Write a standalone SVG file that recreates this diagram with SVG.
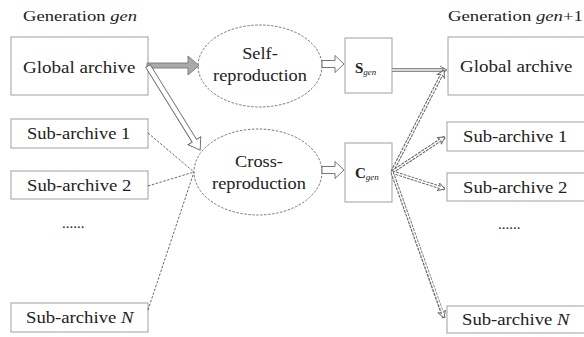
<svg xmlns="http://www.w3.org/2000/svg" width="584" height="337" viewBox="0 0 584 337" font-family="Liberation Serif">
<style>
  text { fill: #222; }
  .box { fill: #fff; stroke: #a0a0a0; stroke-width: 1; }
  .lbl { font-size: 17px; }
  .hdr { font-size: 15px; }
  .mid { text-anchor: middle; }
  .ell { fill: #fff; stroke: #555; stroke-width: 0.8; stroke-dasharray: 2.5 1.5; }
  .thin { fill: none; stroke: #444; stroke-width: 0.8; stroke-dasharray: 2.5 1.5; }
  .dblout { fill: none; stroke: #666; stroke-width: 3.4; stroke-dasharray: 3 1; }
  .dblin { fill: none; stroke: #fff; stroke-width: 1.4; }
  .sdblout { fill: none; stroke: #666; stroke-width: 3.4; }
  .hollow { fill: #fff; stroke: #666; stroke-width: 0.9; }
  .grey { fill: #aaa; stroke: #777; stroke-width: 0.9; }
  .head { fill: #fff; stroke: #666; stroke-width: 0.9; }
</style>
<defs>
  <marker id="ah" markerWidth="10" markerHeight="10" refX="8" refY="5" orient="auto" markerUnits="userSpaceOnUse">
    <path d="M1,1 L8,5 L1,9 L3,5 Z" class="head"/>
  </marker>
</defs>

<text class="hdr" font-family="Liberation Serif" transform="translate(23,21) scale(1.24,1)">Generation <tspan font-style="italic">gen</tspan></text>
<text class="hdr" font-family="Liberation Serif" transform="translate(448,21) scale(1.25,1)">Generation <tspan font-style="italic">gen</tspan>+1</text>

<g id="left-global">
  <rect class="box" x="11" y="37" width="137" height="58"/>
  <text class="lbl" font-family="Liberation Serif" transform="translate(23,73) scale(1.12,1)">Global archive</text>
</g>
<g id="left-sub1">
  <rect class="box" x="11" y="119" width="137" height="29"/>
  <text class="lbl" font-family="Liberation Serif" transform="translate(27,139) scale(1.09,1)">Sub-archive 1</text>
</g>
<g id="left-sub2">
  <rect class="box" x="11" y="171" width="137" height="28"/>
  <text class="lbl" font-family="Liberation Serif" transform="translate(27,191) scale(1.1,1)">Sub-archive 2</text>
</g>
<text id="left-dots" class="hdr" font-family="Liberation Serif" x="62" y="228">......</text>
<g id="left-subN">
  <rect class="box" x="11" y="303" width="137" height="29"/>
  <text class="lbl" font-family="Liberation Serif" transform="translate(26,323) scale(1.1,1)">Sub-archive <tspan font-style="italic">N</tspan></text>
</g>

<g id="self">
  <ellipse class="ell" cx="260" cy="66" rx="62" ry="41"/>
  <text class="lbl mid" font-family="Liberation Serif" transform="translate(260,59) scale(1.08,1)">Self-</text>
  <text class="lbl mid" font-family="Liberation Serif" transform="translate(260,81) scale(1.08,1)">reproduction</text>
</g>
<g id="cross">
  <ellipse class="ell" cx="258" cy="172" rx="64" ry="43"/>
  <text class="lbl mid" font-family="Liberation Serif" transform="translate(259,167) scale(1.08,1)">Cross-</text>
  <text class="lbl mid" font-family="Liberation Serif" transform="translate(259,189) scale(1.08,1)">reproduction</text>
</g>

<g id="sgen">
  <rect class="box" x="345" y="38" width="47" height="55"/>
  <text font-family="Liberation Serif" x="355" y="73" font-size="15" font-weight="bold">S<tspan font-size="9" font-weight="normal" font-style="italic" dy="2">gen</tspan></text>
</g>
<g id="cgen">
  <rect class="box" x="345" y="143" width="47" height="59"/>
  <text font-family="Liberation Serif" x="355" y="178" font-size="15" font-weight="bold">C<tspan font-size="9" font-weight="normal" font-style="italic" dy="2">gen</tspan></text>
</g>

<g id="right-global">
  <rect class="box" x="448" y="37" width="140" height="58"/>
  <text class="lbl" font-family="Liberation Serif" transform="translate(460,72) scale(1.12,1)">Global archive</text>
</g>
<g id="right-sub1">
  <rect class="box" x="447" y="122" width="140" height="29"/>
  <text class="lbl" font-family="Liberation Serif" transform="translate(463,142) scale(1.1,1)">Sub-archive 1</text>
</g>
<g id="right-sub2">
  <rect class="box" x="447" y="173" width="140" height="28"/>
  <text class="lbl" font-family="Liberation Serif" transform="translate(463,193) scale(1.1,1)">Sub-archive 2</text>
</g>
<text id="right-dots" class="hdr" font-family="Liberation Serif" x="498" y="229">......</text>
<g id="right-subN">
  <rect class="box" x="447" y="306" width="140" height="27"/>
  <text class="lbl" font-family="Liberation Serif" transform="translate(462,325) scale(1.1,1)">Sub-archive <tspan font-style="italic">N</tspan></text>
</g>

<g id="connectors">
  <polygon class="grey" points="147,63 188,63 188,56 199,65.5 188,75 188,68 147,68"/>
  <g transform="translate(148,66) rotate(58.2)">
    <polygon class="hollow" points="0,-2.6 88,-2.6 88,-7.5 99,0 88,7.5 88,2.6 0,2.6"/>
  </g>
  <polygon class="hollow" points="322,60.5 335,60.5 335,55.5 344,64 335,72.5 335,67.5 322,67.5"/>
  <polygon class="hollow" points="322,166.5 335,166.5 335,161.5 344,170 335,178.5 335,173.5 322,173.5"/>
  <line class="thin" x1="148" y1="133" x2="194" y2="172"/>
  <line class="thin" x1="148" y1="186" x2="194" y2="172"/>
  <line class="thin" x1="148" y1="310" x2="194" y2="172"/>
  <line class="sdblout" x1="392" y1="70" x2="444" y2="70"/>
  <line class="dblin" x1="392" y1="70" x2="444" y2="70"/>
  <path d="M440,66 L447,70 L440,74" fill="none" stroke="#666" stroke-width="0.9"/>
  <line class="dblout" x1="392" y1="172" x2="444" y2="70" marker-end="url(#ah)"/>
  <line class="dblin" x1="392" y1="172" x2="442" y2="74"/>
  <line class="dblout" x1="392" y1="172" x2="445" y2="137" marker-end="url(#ah)"/>
  <line class="dblin" x1="392" y1="172" x2="442" y2="139"/>
  <line class="dblout" x1="392" y1="172" x2="445" y2="189" marker-end="url(#ah)"/>
  <line class="dblin" x1="392" y1="172" x2="442" y2="188"/>
  <line class="dblout" x1="392" y1="172" x2="444" y2="318" marker-end="url(#ah)"/>
  <line class="dblin" x1="392" y1="172" x2="443" y2="314"/>
</g>
</svg>
